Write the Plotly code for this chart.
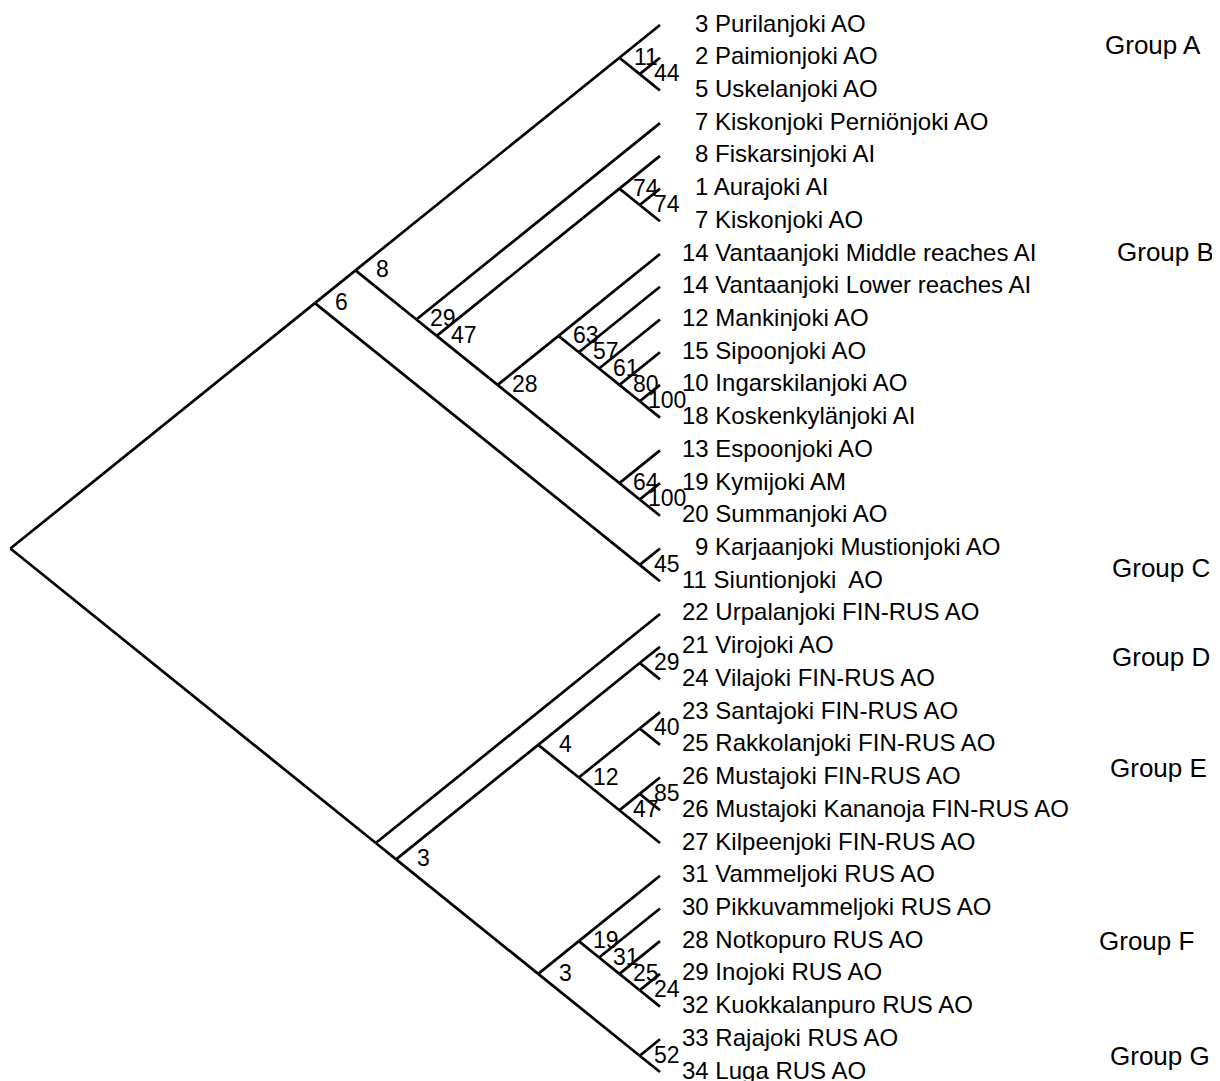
import plotly.graph_objects as go

# ---------------- data ----------------
leaf_labels = [
    "3 Purilanjoki AO", "2 Paimionjoki AO", "5 Uskelanjoki AO",
    "7 Kiskonjoki Perniönjoki AO", "8 Fiskarsinjoki AI", "1 Aurajoki AI",
    "7 Kiskonjoki AO", "14 Vantaanjoki Middle reaches AI",
    "14 Vantaanjoki Lower reaches AI", "12 Mankinjoki AO", "15 Sipoonjoki AO",
    "10 Ingarskilanjoki AO", "18 Koskenkylänjoki AI", "13 Espoonjoki AO",
    "19 Kymijoki AM", "20 Summanjoki AO", "9 Karjaanjoki Mustionjoki AO",
    "11 Siuntionjoki  AO", "22 Urpalanjoki FIN-RUS AO", "21 Virojoki AO",
    "24 Vilajoki FIN-RUS AO", "23 Santajoki FIN-RUS AO",
    "25 Rakkolanjoki FIN-RUS AO", "26 Mustajoki FIN-RUS AO",
    "26 Mustajoki Kananoja FIN-RUS AO", "27 Kilpeenjoki FIN-RUS AO",
    "31 Vammeljoki RUS AO", "30 Pikkuvammeljoki RUS AO", "28 Notkopuro RUS AO",
    "29 Inojoki RUS AO", "32 Kuokkalanpuro RUS AO", "33 Rajajoki RUS AO",
    "34 Luga RUS AO",
]

# topology (leaf indices) with bootstrap support values, Newick style
tree_newick = (
    "((((0,(1,2)44)11,(3,((4,(5,6)74)74,((7,(8,(9,(10,(11,12)100)80)61)57)63,"
    "(13,(14,15)100)64)28)47)29)8,(16,17)45)6,"
    "(18,(((19,20)29,((21,22)40,((23,24)85,25)47)12)4,"
    "((26,(27,(28,(29,30)24)25)31)19,(31,32)52)3)3));"
)

group_names = ["Group A", "Group B", "Group C", "Group D", "Group E", "Group F", "Group G"]
group_rows = [0.61, 6.94, 16.6, 19.3, 22.7, 28.0, 31.5]

# ---------------- parse ----------------
def parse(s):
    pos = 0

    def node():
        nonlocal pos
        if s[pos] == "(":
            pos += 1
            kids = [node()]
            while s[pos] == ",":
                pos += 1
                kids.append(node())
            assert s[pos] == ")"
            pos += 1
            lab = ""
            while pos < len(s) and s[pos] not in ",);":
                lab += s[pos]
                pos += 1
            return {"kids": kids, "label": lab}
        lab = ""
        while s[pos] not in ",);":
            lab += s[pos]
            pos += 1
        return {"leaf": int(lab)}

    return node()

root = parse(tree_newick)

# slanted cladogram layout: y = leaf row, x = -(half span of leaves)
def layout(n):
    if "leaf" in n:
        n["lo"] = n["hi"] = n["leaf"]
    else:
        for k in n["kids"]:
            layout(k)
        n["lo"] = min(k["lo"] for k in n["kids"])
        n["hi"] = max(k["hi"] for k in n["kids"])
    n["y"] = (n["lo"] + n["hi"]) / 2
    n["x"] = -(n["hi"] - n["lo"]) / 2

layout(root)

xs, ys, internal = [], [], []

def collect(n):
    if "kids" in n:
        internal.append(n)
        for k in n["kids"]:
            xs.extend([n["x"], k["x"], None])
            ys.extend([n["y"], k["y"], None])
            collect(k)

collect(root)

# ---------------- figure ----------------
PAGE_OFF = 8                  # default body margin of the page
W, H = 1220 - PAGE_OFF, 1081 - PAGE_OFF
TIP_PX, XU = 660 - PAGE_OFF, 40.6     # leaf tip pixel, px per x unit
TOP_PX, YU = 25 - PAGE_OFF, 32.72     # first leaf pixel, px per row
FONT = "Liberation Sans, Arial, sans-serif"

fig = go.Figure()
fig.add_trace(go.Scatter(x=xs, y=ys, mode="lines",
                         line=dict(color="black", width=2.7),
                         hoverinfo="skip", showlegend=False))

for n in internal:
    if n["label"]:
        fig.add_annotation(x=n["x"], y=n["y"], text=n["label"], showarrow=False,
                           xanchor="center", yanchor="middle", xshift=27, yshift=1,
                           font=dict(family=FONT, size=23, color="black"))

for i, lab in enumerate(leaf_labels):
    num = lab.split(" ")[0]
    shift = 20 if len(num) == 2 else 33
    fig.add_annotation(x=0, y=i, text=lab, showarrow=False,
                       xanchor="left", yanchor="middle", xshift=shift, yshift=2,
                       font=dict(family=FONT, size=24, color="black"))

group_px = [1103, 1115, 1110, 1110, 1108, 1097, 1108]
for name, row, px in zip(group_names, group_rows, group_px):
    fig.add_annotation(x=(px - PAGE_OFF - TIP_PX) / XU, y=row, text=name, showarrow=False,
                       xanchor="left", yanchor="middle",
                       font=dict(family=FONT, size=26, color="black"))

fig.update_layout(
    width=W, height=H, margin=dict(l=0, r=0, t=0, b=0),
    paper_bgcolor="white", plot_bgcolor="white",
    xaxis=dict(range=[-TIP_PX / XU, (W - TIP_PX) / XU], visible=False, fixedrange=True),
    yaxis=dict(range=[(H - TOP_PX) / YU, -TOP_PX / YU], visible=False, fixedrange=True),
)

fig.write_html("out.html")
